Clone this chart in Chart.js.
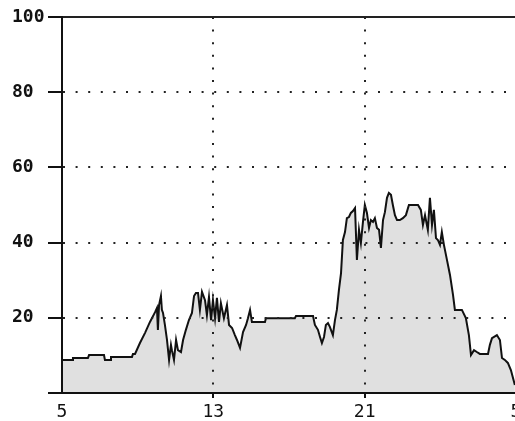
<!DOCTYPE html>
<html>
<head>
<meta charset="utf-8">
<script src="https://cdn.jsdelivr.net/npm/chart.js@4/dist/chart.umd.min.js"></script>
<style>
    html, body { margin: 0; padding: 0; background: #fff; overflow: hidden; }
    #wrap { position: absolute; left: 0; top: 0; width: 530px; height: 421px; }
</style>
</head>
<body>
<div id="wrap"><canvas id="load-chart"></canvas></div>
<script>
// Ore (5 = 05:00, 29 = 05:00 del giorno dopo)
const hours = [
    5.00, 5.53, 5.58, 6.37, 6.43, 7.22, 7.27, 7.54, 7.59, 8.70, 8.75, 8.86, 9.12, 9.39, 9.65, 9.92,
    10.02, 10.07, 10.13, 10.23, 10.28, 10.34, 10.44, 10.55, 10.66, 10.76, 10.81, 10.92, 11.03, 11.13,
    11.29, 11.40, 11.55, 11.71, 11.87, 11.98, 12.08, 12.19, 12.29, 12.40, 12.56, 12.66, 12.77, 12.88,
    12.98, 13.09, 13.19, 13.30, 13.40, 13.56, 13.72, 13.83, 13.99, 14.14, 14.25, 14.41, 14.57, 14.73,
    14.83, 14.94, 15.04, 15.73, 15.78, 17.31, 17.37, 18.27, 18.37, 18.53, 18.64, 18.74, 18.85, 18.95,
    19.06, 19.16, 19.32, 19.43, 19.53, 19.64, 19.75, 19.85, 19.96, 20.06, 20.17, 20.27, 20.38, 20.49,
    20.59, 20.70, 20.80, 20.91, 21.01, 21.12, 21.23, 21.33, 21.44, 21.54, 21.65, 21.76, 21.86, 21.97,
    22.07, 22.18, 22.28, 22.39, 22.49, 22.60, 22.71, 22.86, 23.02, 23.18, 23.34, 23.82, 23.97, 24.08,
    24.19, 24.34, 24.45, 24.56, 24.66, 24.77, 24.87, 24.98, 25.08, 25.19, 25.35, 25.51, 25.67, 25.77,
    26.14, 26.35, 26.51, 26.62, 26.78, 26.93, 27.09, 27.52, 27.62, 27.73, 27.99, 28.15, 28.26, 28.41,
    28.57, 28.73, 28.94
];

// Valori (%)
const values = [
    8.8, 8.8, 9.3, 9.3, 10.1, 10.1, 8.8, 8.8, 9.6, 9.6, 10.4, 10.4, 13.3, 16.0, 18.9, 21.5,
    22.6, 16.8, 23.4, 25.8, 22.1, 21.3, 18.1, 14.1, 8.8, 12.8, 11.4, 8.8, 14.1, 11.4,
    10.9, 14.1, 16.8, 19.4, 21.3, 25.8, 26.6, 26.6, 22.1, 26.9, 24.7, 20.7, 25.5, 19.4,
    24.7, 19.9, 25.3, 18.9, 23.9, 19.9, 23.4, 18.1, 17.3, 15.4, 14.1, 12.0, 16.2, 18.1,
    19.9, 22.1, 18.9, 18.9, 19.9, 19.9, 20.5, 20.5, 18.1, 16.8, 14.9, 13.3, 14.9, 18.1,
    18.6, 17.6, 15.4, 19.4, 22.1, 27.4, 31.9, 40.7, 42.8, 46.5, 46.8, 47.9, 48.4, 49.2,
    35.4, 43.4, 39.9, 45.5, 50.0, 47.9, 43.9, 46.0, 45.5, 46.5, 43.9, 43.4, 38.6, 46.0,
    48.1, 51.9, 53.2, 52.7, 50.0, 47.3, 46.0, 46.0, 46.5, 47.3, 50.0, 50.0, 48.7, 44.7,
    47.3, 43.4, 51.9, 44.7, 48.7, 41.2, 40.7, 39.4, 42.8, 39.4, 35.4, 31.4, 26.1, 22.1,
    22.1, 19.9, 15.4, 10.1, 11.4, 10.9, 10.4, 10.4, 12.8, 14.6, 15.4, 14.1, 9.3, 8.8,
    8.0, 6.1, 2.1
];

// Etichette degli assi
const xTicks = [5, 13, 21, 29];
const yTicks = [0, 20, 40, 60, 80, 100];

const dots = [2, 10.6];

const points = hours.map((h, i) => ({ x: h, y: values[i] }));

new Chart(document.getElementById('load-chart').getContext('2d'), {
    type: 'line',
    data: {
        datasets: [{
            data: points,
            borderColor: '#111',
            borderWidth: 2,
            backgroundColor: '#e0e0e0',
            fill: 'origin',
            pointRadius: 0,
            tension: 0
        }]
    },
    options: {
        responsive: true,
        maintainAspectRatio: false,
        animation: false,
        layout: { padding: { left: 12, top: 17, right: 14, bottom: 0 } },
        plugins: {
            legend: { display: false },
            tooltip: { enabled: false }
        },
        scales: {
            x: {
                type: 'linear',
                min: xTicks[0],
                max: xTicks[xTicks.length - 1],
                afterBuildTicks: scale => { scale.ticks = xTicks.map(v => ({ value: v })); },
                afterFit: scale => { scale.height = 28; },
                ticks: {
                    color: '#111',
                    font: { family: 'DejaVu Sans Mono', size: 18 },
                    padding: 4,
                    maxRotation: 0,
                    callback: v => String(v % 24)
                },
                grid: {
                    z: 1,
                    lineWidth: 2,
                    tickLength: 5,
                    tickWidth: 2,
                    color: ctx => (ctx.tick && (ctx.tick.value === 13 || ctx.tick.value === 21)) ? '#222' : 'rgba(0,0,0,0)',
                    tickColor: ctx => (ctx.tick && (ctx.tick.value === 13 || ctx.tick.value === 21)) ? '#111' : 'rgba(0,0,0,0)'
                },
                border: { display: true, color: '#111', width: 2, z: 2, dash: dots }
            },
            y: {
                min: 0,
                max: 100,
                afterBuildTicks: scale => { scale.ticks = yTicks.map(v => ({ value: v })); },
                afterFit: scale => { scale.width = 50; },
                ticks: {
                    color: '#111',
                    font: { family: 'DejaVu Sans Mono', size: 18, weight: 'bold' },
                    padding: 2,
                    crossAlign: 'far',
                    callback: v => v === 0 ? '' : String(v)
                },
                grid: {
                    z: 1,
                    lineWidth: 2,
                    tickLength: 14,
                    tickWidth: 2,
                    color: '#222',
                    tickColor: '#111'
                },
                border: {
                    display: true, color: '#111', width: 2, z: 2,
                    dash: ctx => (ctx.tick && ctx.tick.value === 100) ? [] : dots
                }
            }
        }
    }
});
</script>
</body>
</html>
